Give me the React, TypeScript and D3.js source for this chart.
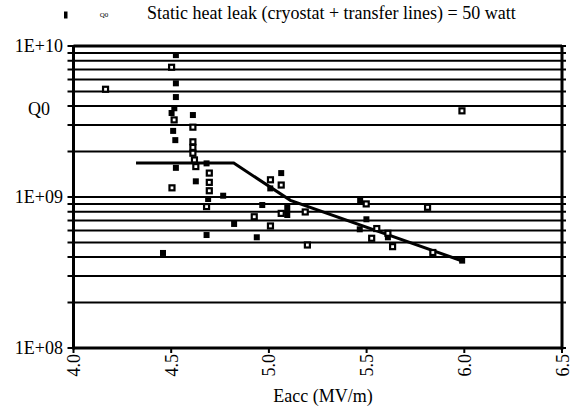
import * as d3 from 'd3';

// measured points, filled markers
const filledE = [4.524, 4.524, 4.524, 4.516, 4.502, 4.611, 4.51, 4.521, 4.524, 4.626, 4.681, 4.689, 4.766, 4.822, 4.681, 4.458, 4.966, 4.938, 5.063, 5.007, 5.094, 5.094, 5.467, 5.499, 5.465, 5.609, 5.989];
const filledQ = [8.7e9, 5.66e9, 4.59e9, 3.87e9, 3.6e9, 3.49e9, 2.74e9, 2.38e9, 1.56e9, 1.27e9, 1.67e9, 9.7e8, 1.02e9, 6.63e8, 5.6e8, 4.26e8, 8.85e8, 5.41e8, 1.44e9, 1.14e9, 8.46e8, 7.6e8, 9.44e8, 7.12e8, 6.11e8, 5.41e8, 3.79e8];

// open markers
const openE = [4.502, 4.164, 4.515, 4.611, 4.611, 4.611, 4.611, 4.619, 4.626, 4.504, 4.695, 4.695, 4.695, 4.681, 4.925, 5.008, 5.063, 5.008, 5.063, 5.186, 5.197, 5.498, 5.812, 5.552, 5.609, 5.526, 5.633, 5.839, 5.988];
const openQ = [7.23e9, 5.17e9, 3.24e9, 2.9e9, 2.32e9, 2.13e9, 1.95e9, 1.76e9, 1.59e9, 1.15e9, 1.44e9, 1.25e9, 1.1e9, 8.64e8, 7.4e8, 1.3e9, 1.2e9, 6.43e8, 7.79e8, 7.96e8, 4.81e8, 9.0e8, 8.55e8, 6.18e8, 5.75e8, 5.33e8, 4.69e8, 4.29e8, 3.72e9];

// fitted trend
const fitE = [4.32, 4.82, 5.11, 5.99];
const fitQ = [1.68e9, 1.68e9, 9.5e8, 3.77e8];

const xTicks = [4.0, 4.5, 5.0, 5.5, 6.0, 6.5];
const yMajor = [1e8, 1e9, 1e10];
const yMajorLabels = ['1E+08', '1E+09', '1E+10'];

const legendMarker = 'Q0';
const legendText = 'Static heat leak (cryostat + transfer lines) = 50 watt';
const xTitle = 'Eacc (MV/m)';
const yTitle = 'Q0';

const W = 573;
const H = 413;
const FONT = 'Liberation Serif';
const FS = 18;

const x = d3.scaleLinear().domain([4, 6.5]).range([73.5, 562]);
const y = d3.scaleLog().domain([1e8, 1e10]).range([348, 46]);

document.body.style.margin = '0';

export default function App() {
  const grid = y.ticks();
  const fitPath = d3.line<number>().x(i => x(fitE[i])).y(i => y(fitQ[i]))(fitE.map((_, i) => i)) || '';

  return (
    <svg width={W} height={H} style={{ display: 'block' }}>
      {/* gridlines + side stubs */}
      {grid.map((d, i) => (
        <line key={'g' + i} x1={x(4) - 6} x2={x(6.5) + 4} y1={y(d)} y2={y(d)} stroke="#000" strokeWidth={2} />
      ))}

      {/* frame */}
      <g stroke="#000" strokeWidth={3}>
        <line x1={x(4)} x2={x(4)} y1={y(1e10) - 1} y2={y(1e8) + 1.5} />
        <line x1={x(6.5)} x2={x(6.5)} y1={y(1e10) - 1} y2={y(1e8) + 1.5} />
        <line x1={x(4)} x2={x(6.5)} y1={y(1e8)} y2={y(1e8)} />
        <line x1={x(4)} x2={x(6.5)} y1={y(1e10)} y2={y(1e10)} />
      </g>

      {/* x ticks */}
      {xTicks.map(d => (
        <g key={'x' + d}>
          <line x1={x(d)} x2={x(d)} y1={y(1e8)} y2={y(1e8) + 5} stroke="#000" strokeWidth={2} />
          <text
            transform={`translate(${x(d) + 6.5},${y(1e8) + 6}) rotate(-90)`}
            textAnchor="end"
            fontFamily={FONT}
            fontSize={FS}
          >
            {d.toFixed(1)}
          </text>
        </g>
      ))}

      {/* y labels */}
      {yMajor.map((d, i) => (
        <text key={'y' + i} x={63} y={y(d) + 5.5} textAnchor="end" fontFamily={FONT} fontSize={FS}>
          {yMajorLabels[i]}
        </text>
      ))}

      <text x={39} y={115} textAnchor="middle" fontFamily={FONT} fontSize={FS}>{yTitle}</text>
      <text x={323} y={402} textAnchor="middle" fontFamily={FONT} fontSize={FS}>{xTitle}</text>

      {/* fitted line */}
      <path d={fitPath} fill="none" stroke="#000" strokeWidth={3} />

      {/* filled markers */}
      {filledE.map((e, i) => (
        <rect key={'f' + i} x={x(e) - 3} y={y(filledQ[i]) - 3} width={6} height={6} fill="#000" />
      ))}

      {/* open markers */}
      {openE.map((e, i) => (
        <rect
          key={'o' + i}
          x={x(e) - 2.5}
          y={y(openQ[i]) - 2.5}
          width={5}
          height={5}
          fill="#fff"
          stroke="#000"
          strokeWidth={2.2}
        />
      ))}

      {/* legend */}
      <rect x={64} y={11.5} width={3.5} height={7} fill="#000" />
      <text x={104} y={17} textAnchor="middle" fontFamily={FONT} fontSize={7}>{legendMarker}</text>
      <text x={147} y={19} fontFamily={FONT} fontSize={FS}>{legendText}</text>
    </svg>
  );
}
